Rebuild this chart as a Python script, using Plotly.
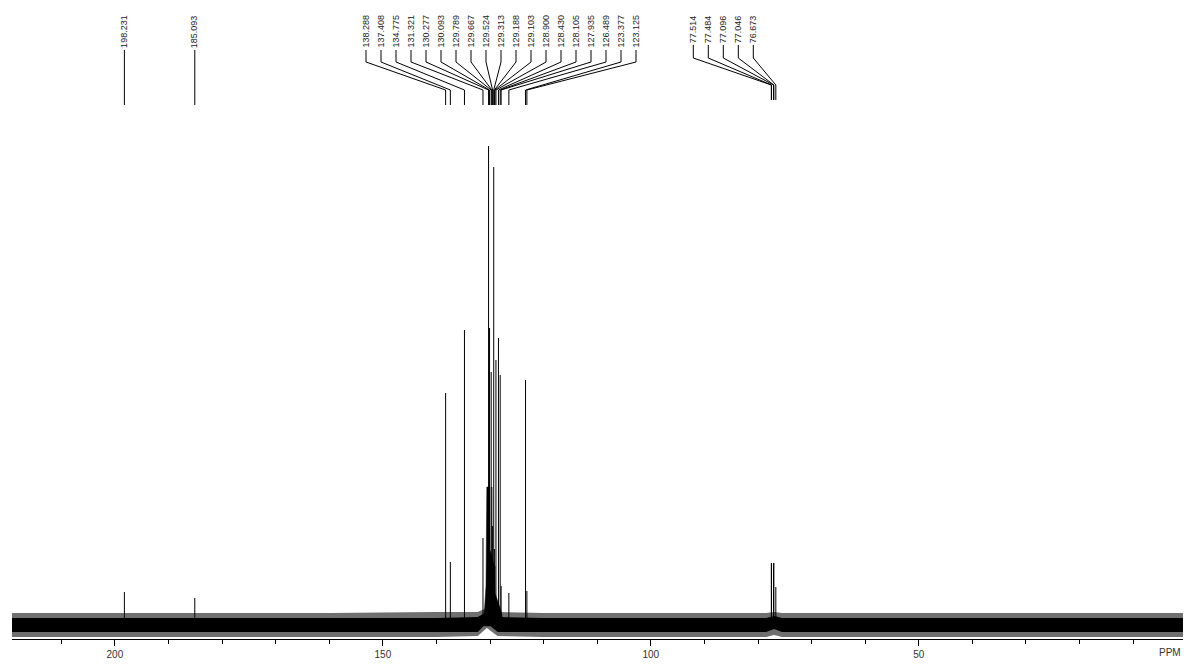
import plotly.graph_objects as go

# ---------------- data ----------------
peak_ppm = [198.231, 185.093,
            138.288, 137.408, 134.775, 131.321, 130.277, 130.093, 129.789,
            129.667, 129.524, 129.313, 129.188, 129.103, 128.900, 128.430,
            128.105, 127.935, 126.489, 123.377, 123.125,
            77.514, 77.484, 77.096, 77.046, 76.673]
peak_int = [34, 28,
            233, 64, 296, 88, 480, 298, 254,
            139, 100, 459, 77, 60, 266, 288,
            251, 40, 33, 246, 35,
            63, 63, 63, 63, 39]

# overlapping base of the aromatic cluster (ppm, intensity)
base_ppm = [131.3, 131.0, 130.75, 130.6, 130.05, 130.0, 129.67, 129.2, 129.1, 128.56, 127.94, 127.6]
base_int = [5, 19, 40, 139, 139, 76, 70, 60, 33, 25, 15, 5]

# noise band envelope (ppm, dense core top/bottom, outer fringe top/bottom)
noise_ppm = [219.2, 200.0, 180.0, 160.0, 140.0, 132.3, 130.6, 128.6, 120.0, 100.0, 78.5, 77.0, 75.5, 60.0, 40.0, 20.0, 0.7]
core_hi   = [8, 8, 8, 8, 8, 9, 14, 9, 8, 8, 8, 10, 8, 8, 8, 8, 8]
core_lo   = [-6, -6, -6, -6, -6, -6, 3, -6, -6, -6, -6, -3, -6, -6, -6, -6, -6]
fringe_hi = [13, 13, 13, 13, 14, 14, 18, 14, 13, 13, 13, 14, 13, 13, 13, 13, 13]
fringe_lo = [-11, -11, -11, -11, -11, -10, -2, -10, -11, -11, -11, -9, -11, -11, -11, -11, -11]

label_groups = [
    ["198.231"],
    ["185.093"],
    ["138.288", "137.408", "134.775", "131.321", "130.277", "130.093", "129.789",
     "129.667", "129.524", "129.313", "129.188", "129.103", "128.900", "128.430",
     "128.105", "127.935", "126.489", "123.377", "123.125"],
    ["77.514", "77.484", "77.096", "77.046", "76.673"],
]

major_ticks = [200, 150, 100, 50]
minor_ticks = [210, 200, 190, 180, 170, 160, 150, 140, 130, 120, 110, 100, 90, 80, 70, 60, 50, 40, 30, 20, 10]

# ---------------- layout constants ----------------
W, H = 1184, 664
ML, MR, MT, MB = 12, 1, 0, 25
X0, X1 = 219.2, 0.7
PW = W - ML - MR
PH = H - MT - MB
YMIN, YMAX = -13, PH - 13          # 1 intensity unit = 1 px
scale = PW / (X0 - X1)

def px_to_ppm(px):
    return X0 - (px - ML) / scale

def ypix_to_v(yp):
    return (PH - 13) - yp

# group label layout: (first label px or None -> at peak, step, line y's)
group_layout = [
    (None, 15, (50, 62, 90, 105)),
    (None, 15, (50, 62, 90, 105)),
    (366, 15, (50, 62, 90, 105)),
    (693.3, 15, (45, 58, 85, 100)),
]

fig = go.Figure()

# noise fringe
fig.add_trace(go.Scatter(
    x=noise_ppm + noise_ppm[::-1], y=fringe_hi + fringe_lo[::-1],
    fill="toself", fillcolor="#6f6f6f", line=dict(width=0), mode="lines",
    hoverinfo="skip", showlegend=False))
# noise core
fig.add_trace(go.Scatter(
    x=noise_ppm + noise_ppm[::-1], y=core_hi + core_lo[::-1],
    fill="toself", fillcolor="#000000", line=dict(width=0), mode="lines",
    hoverinfo="skip", showlegend=False))
# cluster base
fig.add_trace(go.Scatter(
    x=base_ppm + base_ppm[::-1], y=base_int + [0] * len(base_int),
    fill="toself", fillcolor="#000000", line=dict(width=0.5, color="#000000"), mode="lines",
    hoverinfo="skip", showlegend=False))

# peaks
px_, py_ = [], []
for p, h in zip(peak_ppm, peak_int):
    px_ += [p, p, None]
    py_ += [0, h, None]
fig.add_trace(go.Scatter(x=px_, y=py_, mode="lines",
                         line=dict(color="#000000", width=1),
                         hoverinfo="skip", showlegend=False))

# labels + connectors
cx, cy = [], []
annotations = []
for labels, (start, step, ys) in zip(label_groups, group_layout):
    for i, lab in enumerate(labels):
        p = float(lab)
        lx = p if start is None else px_to_ppm(start + i * step)
        y1, y2, y3, y4 = ys
        cx += [lx, lx, p, p, None]
        cy += [ypix_to_v(y1), ypix_to_v(y2), ypix_to_v(y3), ypix_to_v(y4), None]
        annotations.append(dict(
            x=lx, xref="x", y=1 - 13 / PH, yref="paper",
            text=lab, textangle=-90, showarrow=False,
            xanchor="center", yanchor="top",
            font=dict(family="Liberation Sans, Arial, sans-serif", size=9, color="#222222")))
fig.add_trace(go.Scatter(x=cx, y=cy, mode="lines",
                         line=dict(color="#000000", width=1),
                         hoverinfo="skip", showlegend=False))

annotations.append(dict(
    x=(1170 - ML) / PW, xref="paper", y=0, yref="paper", yshift=-13,
    text="PPM", showarrow=False, xanchor="center", yanchor="middle",
    font=dict(family="Liberation Sans, Arial, sans-serif", size=10, color="#333333")))

fig.update_layout(
    width=W, height=H,
    margin=dict(l=ML, r=MR, t=MT, b=MB, pad=0),
    plot_bgcolor="white", paper_bgcolor="white",
    showlegend=False,
    annotations=annotations,
    xaxis=dict(range=[X0, X1], showgrid=False, zeroline=False,
               showline=True, linecolor="#000000", linewidth=1,
               tickmode="array", tickvals=major_ticks,
               ticktext=[str(t) for t in major_ticks],
               ticks="outside", ticklen=6, tickwidth=1, tickcolor="#000000",
               tickfont=dict(family="Liberation Sans, Arial, sans-serif", size=10, color="#333333"),
               minor=dict(tickmode="array", tickvals=minor_ticks, ticks="outside",
                          ticklen=4, tickwidth=1, tickcolor="#000000", showgrid=False)),
    yaxis=dict(range=[YMIN, YMAX], visible=False, showgrid=False, zeroline=False),
)

fig.write_html("out.html")
